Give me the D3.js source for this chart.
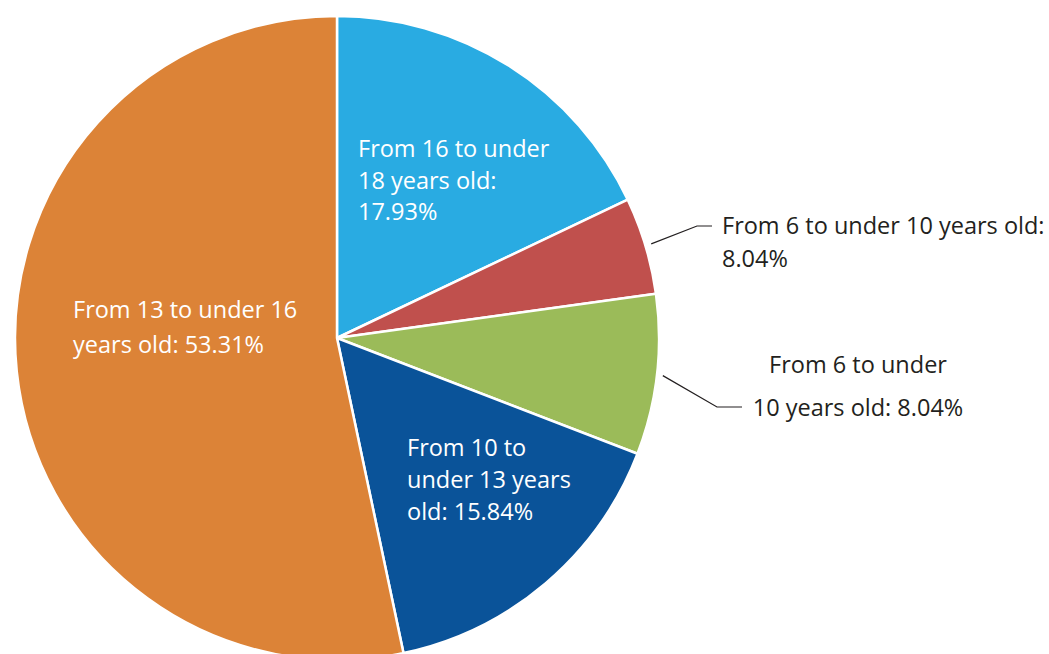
<!DOCTYPE html>
<html><head><meta charset="utf-8">
<script src="https://cdn.jsdelivr.net/npm/d3@7"></script>
<style>html,body{margin:0;padding:0;background:#fff;}</style>
</head><body>
<svg id="c" width="1049" height="654"></svg>
<script>
// Data (slice order clockwise from 12 o'clock)
const categories = ["16-18", "6-10 (a)", "6-10 (b)", "10-13", "13-16"];
const values = [17.93, 4.88, 8.04, 15.84, 53.31];
const colors = ["#29abe2", "#c0504d", "#9bbb59", "#0a5399", "#dc8337"];
const labelLines = [
  ["From 16 to under", "18 years old:", "17.93%"],
  ["From 6 to under 10 years old:", "8.04%"],
  ["From 6 to under", "10 years old: 8.04%"],
  ["From 10 to", "under 13 years", "old: 15.84%"],
  ["From 13 to under 16", "years old: 53.31%"]
];

const svg = d3.select("#c");
const cx = 337, cy = 338, R = 322;
const FONT = "'Open Sans', sans-serif";
const FS = 23.5;

const g = svg.append("g").attr("transform", `translate(${cx},${cy})`);
const pie = d3.pie().sort(null).value(d => d)(values);
const arc = d3.arc().innerRadius(0).outerRadius(R);

g.selectAll("path.slice").data(pie).join("path")
  .attr("class", "slice")
  .attr("d", arc)
  .attr("fill", (d, i) => colors[i])
  .attr("stroke", "#fff")
  .attr("stroke-width", 2.5)
  .attr("stroke-linejoin", "round");

// Inside labels: offsets from pie center
const inside = [
  {i: 0, x: 21, y: -181, lh: 31.5},
  {i: 3, x: 70, y: 118, lh: 32},
  {i: 4, x: -264, y: -20, lh: 35}
];
inside.forEach(o => {
  const t = g.append("text").attr("fill", "#fff")
    .attr("font-family", FONT).attr("font-size", FS);
  labelLines[o.i].forEach((s, k) => {
    t.append("tspan").attr("x", o.x).attr("y", o.y + k * o.lh).text(s);
  });
});

// Outside labels with leader lines
const outside = [
  {i: 1, elbow: [360, -112], end: [375, -112], tx: 385, ty: -104, lh: 33, anchor: "start"},
  {i: 2, elbow: [380, 69], end: [405, 69], tx: 521, ty: 35, lh: 43, anchor: "middle"}
];
outside.forEach(o => {
  const d = pie[o.i];
  const a = (d.startAngle + d.endAngle) / 2;
  const r0 = R + 6;
  const p0 = [Math.sin(a) * r0, -Math.cos(a) * r0];
  g.append("polyline")
    .attr("points", [p0, o.elbow, o.end].map(p => p.join(",")).join(" "))
    .attr("fill", "none").attr("stroke", "#231f20").attr("stroke-width", 1.2);
  const t = g.append("text").attr("fill", "#231f20")
    .attr("font-family", FONT).attr("font-size", FS)
    .attr("text-anchor", o.anchor);
  labelLines[o.i].forEach((s, k) => {
    t.append("tspan").attr("x", o.tx).attr("y", o.ty + k * o.lh).text(s);
  });
});
</script>
</body></html>
